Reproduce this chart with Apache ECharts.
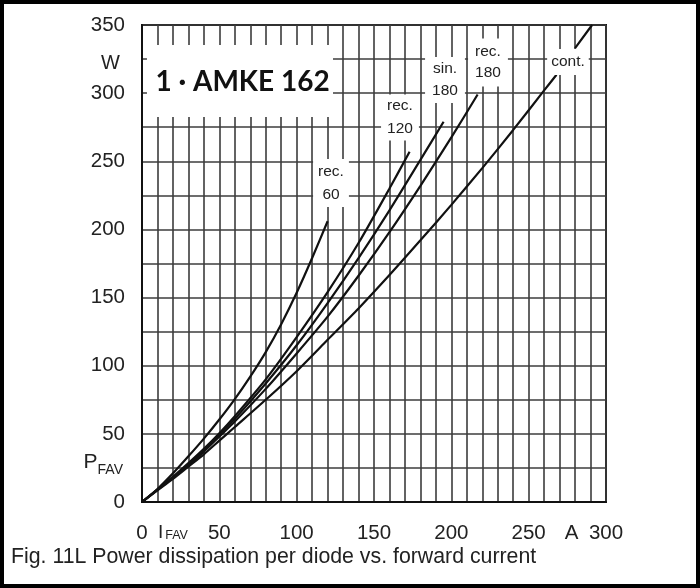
<!DOCTYPE html>
<html><head><meta charset="utf-8">
<script src="https://cdn.jsdelivr.net/npm/echarts@6/dist/echarts.min.js"></script>
<style>html,body{margin:0;padding:0;background:#fff}#c{width:700px;height:588px}</style>
</head><body><div id="c"></div>
<script>
// ---- data (A, W) ----
const xLabelValues = [0, 50, 100, 150, 200, 250, 300];
const yLabelValues = [0, 50, 100, 150, 200, 250, 300, 350];
const rec60  = [[0,0],[10,9.5],[20,21],[30,33.5],[40,46.5],[50,60.5],[60,75.5],[70,92],[80,110],[90,130.5],[100,153.5],[110,179],[120,206]];
const rec120 = [[0,0],[10,9],[20,18.5],[30,28.5],[40,39],[50,50.5],[60,63],[80,90],[100,121],[120,154],[140,190],[160,230],[173,257]];
const sin180 = [[0,0],[10,9],[20,18],[30,27],[40,38.5],[50,49.5],[60,61],[80,87],[100,115],[120,146],[140,179],[160,214],[180,251],[195,279]];
const rec180 = [[0,0],[10,9],[20,18],[30,27],[40,37],[50,48],[60,59],[80,83],[100,109],[120,136],[140,166],[160,198],[180,232],[200,267.5],[217,299]];
const cont   = [[0,0],[10,8.5],[20,17],[30,26],[40,35],[50,45],[60,55],[80,75],[100,96],[120,119],[140,142],[160,166.5],[180,192],[200,218],[220,245],[240,273],[260,302],[268,313.5],[274,'-'],[280,333],[291,350]];
const curveLabels = [
  {text:'rec.\n60',  at:[122.2,234], lh:23, pad:[1,5]},
  {text:'rec.\n120', at:[166.8,282.1], lh:23, pad:[0,6]},
  {text:'sin.\n180', at:[195.9,309.6], lh:22, pad:[1,7]},
  {text:'rec.\n180', at:[223.7,322.5], lh:21, pad:[3,7]},
  {text:'cont.',     at:[275.4,322.8], lh:18, pad:[4,4]}
];
const titleText = '1 · AMKE 162';
const titleBox = [3.2, 123.5, 282.5, 335.3]; // A from, A to, W from, W to
const titleAt = [65, 308];
const caption = 'Fig. 11L Power dissipation per diode vs. forward current';

const FONT = '"Liberation Sans", Arial, Helvetica, sans-serif';
const chart = echarts.init(document.getElementById('c'));

function curve(name, data){
  return {name, type:'line', data, symbol:'none', showSymbol:false, smooth:0.25, connectNulls:false,
          lineStyle:{color:'#111', width:2.2}, z:3, silent:true};
}

chart.setOption({
  animation:false,
  grid:{left:142, top:25, right:94, bottom:86, show:true, borderColor:'#111', borderWidth:2, backgroundColor:'#fff', outerBoundsMode:'none'},
  xAxis:{type:'value', min:0, max:300, interval:10,
    axisLine:{show:true, onZero:false, lineStyle:{color:'#111', width:2}},
    axisTick:{show:false},
    splitLine:{show:true, lineStyle:{color:'#3c3c3c', width:1.6}},
    axisLabel:{margin:21, fontSize:20.5, color:'#222', fontFamily:FONT,
      formatter:v => xLabelValues.includes(v) ? String(v) : (v===20 ? '{i|I}{s|FAV}' : (v===280 ? '{a|A}' : '')),
      rich:{i:{fontSize:19, fontFamily:FONT, color:'#222', verticalAlign:'bottom', padding:[0,2,0,0]},
            s:{fontSize:12.5, fontFamily:FONT, color:'#222', verticalAlign:'bottom'},
            a:{fontSize:20.5, fontFamily:FONT, color:'#222', padding:[0,7,0,0]}}}
  },
  yAxis:{type:'value', min:0, max:350, interval:25,
    axisLine:{show:true, onZero:false, lineStyle:{color:'#111', width:2}},
    axisTick:{show:false},
    splitLine:{show:true, lineStyle:{color:'#3c3c3c', width:1.6}},
    axisLabel:{margin:17, fontSize:20.5, color:'#222', fontFamily:FONT,
      formatter:v => yLabelValues.includes(v) ? String(v) : (v===325 ? '{w|W}' : (v===25 ? '{p|P}{f|FAV}' : '')),
      rich:{w:{fontSize:20, fontFamily:FONT, color:'#222', padding:[8,5,0,0]},
            p:{fontSize:21, fontFamily:FONT, color:'#222', verticalAlign:'bottom', padding:[0,0,12,0]},
            f:{fontSize:14, fontFamily:FONT, color:'#222', verticalAlign:'bottom', padding:[0,2,7,0]}}}
  },
  series:[curve('rec. 60', rec60), curve('rec. 120', rec120), curve('sin. 180', sin180), curve('rec. 180', rec180), curve('cont.', cont)]
});

const px = p => chart.convertToPixel({gridIndex:0}, p);
const els = [];
const a = px([titleBox[0], titleBox[3]]), b = px([titleBox[1], titleBox[2]]);
els.push({type:'rect', z:100, shape:{x:a[0], y:a[1], width:b[0]-a[0], height:b[1]-a[1]}, style:{fill:'#fff'}});
const tp = px(titleAt);
els.push({type:'text', z:101, x:tp[0], y:tp[1], style:{text:titleText, font:'bold 28px Lato, "Open Sans", sans-serif', fill:'#111', align:'center', verticalAlign:'middle', textAlign:'center', textVerticalAlign:'middle'}});
curveLabels.forEach(l => {
  const p = px(l.at);
  els.push({type:'text', z:102, x:p[0], y:p[1], style:{text:l.text, fontFamily:FONT, fontSize:15.5, lineHeight:l.lh, fill:'#222',
    align:'center', verticalAlign:'middle', textAlign:'center', textVerticalAlign:'middle', backgroundColor:'#fff', padding:l.pad}});
});
els.push({type:'text', z:101, x:11, y:557, style:{text:caption, fontFamily:FONT, fontSize:21.3, fill:'#222', align:'left', verticalAlign:'middle', textAlign:'left', textVerticalAlign:'middle'}});
els.push({type:'rect', z:110, shape:{x:2, y:2, width:696, height:584}, style:{fill:'none', stroke:'#000', lineWidth:4}});
chart.setOption({graphic:{elements:els}});
</script></body></html>
